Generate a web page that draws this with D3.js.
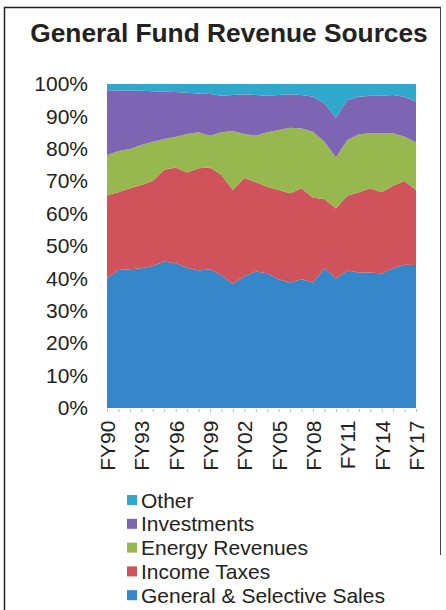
<!DOCTYPE html>
<html><head><meta charset="utf-8">
<script src="https://cdn.jsdelivr.net/npm/d3@7"></script>
<style>body{margin:0;background:#fff;}svg{display:block;font-family:"Liberation Sans",Arial,sans-serif;}</style>
</head><body>
<svg id="c" width="446" height="610"></svg>
<script>
const years = ["FY90","FY91","FY92","FY93","FY94","FY95","FY96","FY97","FY98","FY99","FY00","FY01","FY02","FY03","FY04","FY05","FY06","FY07","FY08","FY09","FY10","FY11","FY12","FY13","FY14","FY15","FY16","FY17"];
const tickLabels = ["FY90","FY93","FY96","FY99","FY02","FY05","FY08","FY11","FY14","FY17"];
const seriesNames = ["General & Selective Sales","Income Taxes","Energy Revenues","Investments","Other"];
// cumulative tops (percent)
const salesTop  = [40.0,42.6,42.8,43.1,43.8,45.2,44.7,43.3,42.4,42.8,41.0,38.3,40.7,42.1,41.6,39.7,38.7,39.7,38.7,43.1,40.0,42.4,41.8,41.8,41.5,43.1,44.2,44.1];
const incomeTop = [65.7,66.6,67.8,68.8,70.1,73.5,74.2,72.7,74.0,74.2,71.9,67.3,71.0,69.7,68.3,67.3,66.3,67.8,64.9,64.5,61.6,65.5,66.6,67.8,66.6,68.6,70.1,67.3];
const energyTop = [78.1,79.3,79.9,81.2,82.2,83.0,83.7,84.6,85.1,84.0,85.1,85.5,84.6,84.0,85.1,85.8,86.5,86.3,85.3,82.2,77.3,82.7,84.5,84.8,84.8,84.8,83.7,82.0];
const investTop = [98.1,98.0,98.0,97.9,97.8,97.6,97.5,97.3,97.1,96.9,96.4,96.6,96.8,96.6,96.4,96.6,96.8,96.6,96.1,94.0,89.6,95.1,96.1,96.4,96.4,96.6,96.1,94.5];
const otherTop  = years.map(() => 100);
const yTicks = [0,10,20,30,40,50,60,70,80,90,100];
const colors = ["#3587c9","#d0525a","#97b84f","#7e65b4","#2fa8cc"];

const tops = [salesTop, incomeTop, energyTop, investTop, otherTop];
const rows = years.map((y,i) => {
  const r = {year:y}; let prev = 0;
  seriesNames.forEach((s,k) => { r[s] = tops[k][i] - prev; prev = tops[k][i]; });
  return r;
});
const stacked = d3.stack().keys(seriesNames)(rows);

const svg = d3.select("#c");
const L = 107, R = 416, T = 84, B = 408;
const x = d3.scalePoint().domain(years).range([L, R]);
const y = d3.scaleLinear().domain([0,100]).range([B, T]);
const FF = "'Liberation Sans',Arial,sans-serif";

// frame
svg.append("line").attr("x1",4.5).attr("x2",4.5).attr("y1",7).attr("y2",610).attr("stroke","#222").attr("stroke-width",1.5);
svg.append("line").attr("x1",4).attr("x2",441).attr("y1",7.5).attr("y2",7.5).attr("stroke","#222").attr("stroke-width",1.5);
svg.append("line").attr("x1",440.5).attr("x2",440.5).attr("y1",7).attr("y2",555).attr("stroke","#444").attr("stroke-width",1);

svg.append("text").attr("x",229).attr("y",41.5).attr("text-anchor","middle")
  .attr("font-size",26.3).attr("font-weight","bold").attr("fill","#222").text("General Fund Revenue Sources");

const area = d3.area().x(d => x(d.data.year)).y0(d => y(d[0])).y1(d => y(d[1]));
svg.append("g").selectAll("path").data(stacked).join("path")
  .attr("d", area).attr("fill", (d,i) => colors[i]);

// y axis
const ya = svg.append("g").attr("transform",`translate(${L},0)`)
  .call(d3.axisLeft(y).tickValues(yTicks).tickFormat(d => d + "%").tickSize(0).tickPadding(19));
ya.select(".domain").remove();
ya.selectAll("text").attr("font-size",21).attr("fill","#222").attr("font-family",FF);

// x axis
const xa = svg.append("g").attr("transform",`translate(0,${B})`)
  .call(d3.axisBottom(x).tickSize(4).tickPadding(6).tickFormat(d => tickLabels.includes(d) ? d : ""));
xa.select(".domain").remove();
xa.selectAll(".tick line").attr("stroke","#a9bccd").attr("y1",1);
xa.selectAll("text").attr("font-size",21).attr("fill","#222").attr("font-family",FF)
  .attr("transform","rotate(-90)").attr("text-anchor","end").attr("dx","-0.6em").attr("dy","0.36em").attr("x",0).attr("y",0);

// legend
const legendOrder = [4,3,2,1,0];
const lg = svg.append("g").selectAll("g").data(legendOrder).join("g")
  .attr("transform",(d,i) => `translate(127,${500 + i*23.8})`);
lg.append("rect").attr("x",0).attr("y",-5).attr("width",10).attr("height",10).attr("fill", d => colors[d]);
lg.append("text").attr("x",14).attr("y",0).attr("dy","0.36em").attr("font-size",21).attr("fill","#222").attr("font-family",FF).text(d => seriesNames[d]);
</script>
</body></html>
